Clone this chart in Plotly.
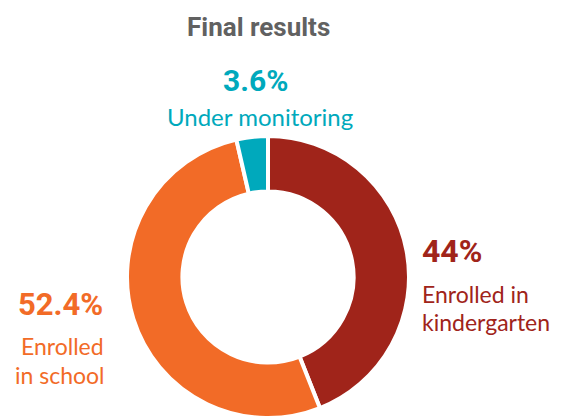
import plotly.graph_objects as go

W, H = 582, 418

labels = ["Enrolled in kindergarten", "Enrolled in school", "Under monitoring"]
values = [44.0, 52.4, 3.6]
pct_labels = ["44%", "52.4%", "3.6%"]
colors = ["#A0241A", "#F26B27", "#00A9BC"]
title = "Final results"

fig = go.Figure(go.Pie(
    labels=labels, values=values, sort=False, direction="clockwise", rotation=0,
    hole=0.607, marker=dict(colors=colors, line=dict(color="white", width=4)),
    textinfo="none", hoverinfo="none",
    domain=dict(x=[(268 - 141) / W, (268 + 141) / W], y=[0, 282 / H]),
))

COND = "Roboto, sans-serif"
REG = "Lato, Noto Sans, sans-serif"

def px(x):
    return x / W

def py(y):
    return 1 - y / H

ann = []
def add(text, x, y, size, color, family, xanchor="center", bold=False):
    t = f"<b>{text}</b>" if bold else text
    ann.append(dict(text=t, x=px(x), y=py(y), xref="paper", yref="paper",
                    xanchor=xanchor, yanchor="middle", showarrow=False,
                    font=dict(size=size, color=color, family=family)))

add(title, 258, 27, 26, "#616161", COND, bold=True)
add(pct_labels[2], 255, 80, 30, colors[2], COND, bold=True)
add("Under monitoring", 260, 117, 24, colors[2], REG)
add(pct_labels[0], 420, 251, 32, colors[0], COND, xanchor="left", bold=True)
add("Enrolled in", 420, 294, 23, colors[0], REG, xanchor="left")
add("kindergarten", 420, 322, 23, colors[0], REG, xanchor="left")
add(pct_labels[1], 60, 304, 31, colors[1], COND, bold=True)
add("Enrolled", 62, 346, 23, colors[1], REG)
add("in school", 60, 375, 23, colors[1], REG)

fig.update_layout(width=W, height=H, margin=dict(l=0, r=0, t=0, b=0),
                  paper_bgcolor="white", plot_bgcolor="white",
                  showlegend=False, annotations=ann)

fig.write_html("out.html", config={"displayModeBar": False},
               post_script="document.body.style.margin='0';")
